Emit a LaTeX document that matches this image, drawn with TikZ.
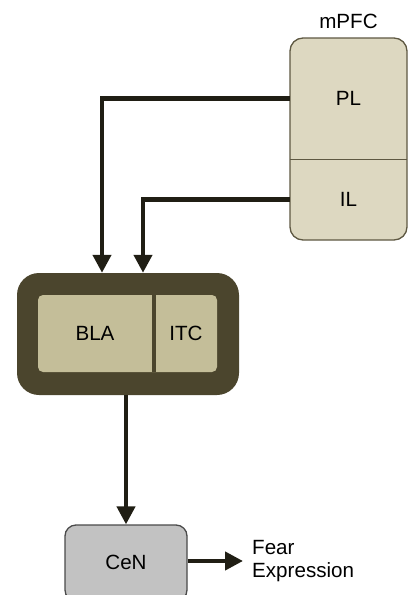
\documentclass[tikz,border=0pt]{standalone}
\usepackage{fontspec}
\setmainfont{Liberation Sans}
\usetikzlibrary{arrows.meta}
\definecolor{pfcfill}{HTML}{DDD8C1}
\definecolor{pfcline}{HTML}{5E5842}
\definecolor{amyout}{HTML}{4B452D}
\definecolor{amyin}{HTML}{C4BE99}
\definecolor{arrcol}{HTML}{201E14}
\definecolor{cenfill}{HTML}{C2C2C2}
\definecolor{cenline}{HTML}{4A4A4A}
\tikzset{
  lbl/.style={font=\fontsize{20.6}{23}\selectfont, inner sep=0pt},
  conn/.style={draw=arrcol, line width=4.2pt, -{Triangle[width=18pt,length=18pt]}},
}
\begin{document}
\begin{tikzpicture}[x=1pt,y=-1pt]
\useasboundingbox (0,0) rectangle (408,595);
% mPFC
\node[draw=pfcline, fill=pfcfill, line width=1.3pt, rounded corners=13pt,
      minimum width=117pt, minimum height=202pt, inner sep=0pt] (mpfc) at (348.5,139) {};
\node[lbl] (mpfclabel) at (348.5,21) {mPFC};
\node[minimum width=117pt, minimum height=121pt, inner sep=0pt] (PL) at (348.5,98.5) {};
\node[minimum width=117pt, minimum height=81pt, inner sep=0pt] (IL) at (348.5,199.5) {};
\node[lbl] at (PL.center) {PL};
\node[lbl] at (IL.center) {IL};
\draw[pfcline, line width=1.3pt] (PL.south west) -- (PL.south east);
% amygdala
\node[fill=amyout, rounded corners=22pt, minimum width=222pt, minimum height=122pt, inner sep=0pt] (amyg) at (128,334) {};
\node[fill=amyin, rounded corners=5pt, minimum width=179pt, minimum height=77pt, inner sep=0pt] (inner) at (127.5,333.5) {};
\draw[amyout, line width=4pt] (154,295) -- (154,372);
\node[lbl] (BLA) at (95,333) {BLA};
\node[lbl] (ITC) at (186,333) {ITC};
% CeN
\node[draw=cenline, fill=cenfill, line width=1.3pt, rounded corners=11pt,
      minimum width=122pt, minimum height=76pt, inner sep=0pt] (CeNbox) at (126,563) {};
\node[lbl] (CeN) at (126,562) {CeN};
\node[lbl, anchor=west, align=left, inner xsep=9pt] (fear) at (243,561) {Fear\\Expression};
% connectors
\draw[conn] (PL.west) -| ([xshift=-26pt]amyg.north);
\draw[conn] (IL.west) -| ([xshift=15pt]amyg.north);
\draw[conn] (CeNbox.north |- amyg.south) -- (CeNbox.north);
\draw[conn] (CeNbox.east |- fear.west) -- (fear.west);
\end{tikzpicture}
\end{document}
